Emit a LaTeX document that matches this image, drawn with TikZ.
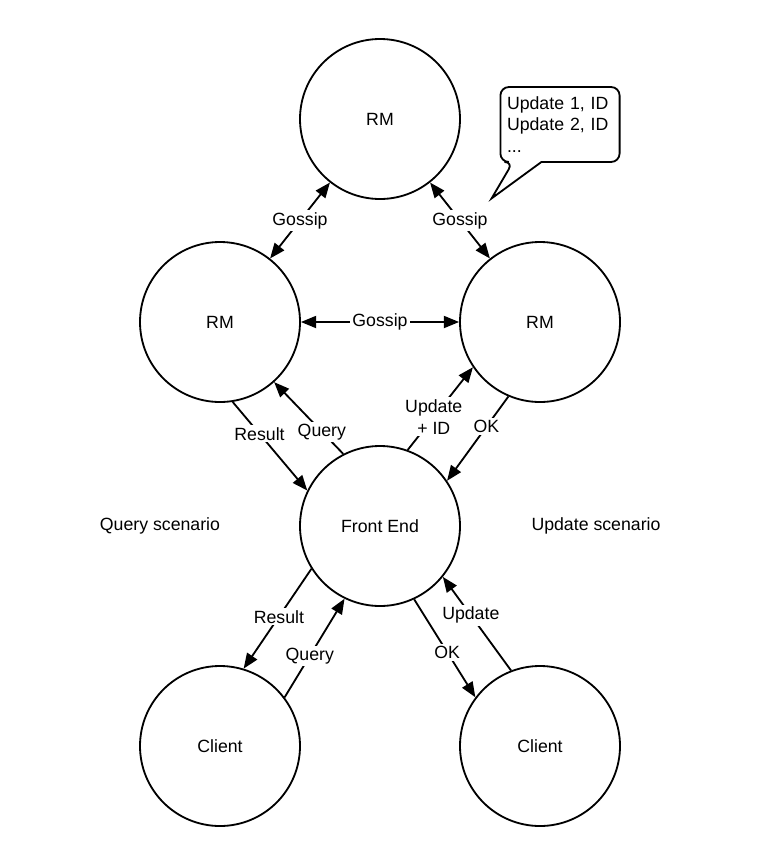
\documentclass[tikz,border=0pt]{standalone}
\usepackage{fontspec}
\setmainfont{Liberation Sans}
\usetikzlibrary{arrows.meta}
\begin{document}
\begin{tikzpicture}[
    every node/.style={font=\fontsize{12.6}{15.5}\selectfont},
    server/.style={draw, circle, line width=1.3pt, minimum size=4cm, inner sep=0pt},
    link/.style={line width=1.3pt, -{Triangle[length=0.38cm,width=0.3cm]}},
    both/.style={line width=1.3pt, {Triangle[length=0.38cm,width=0.3cm]}-{Triangle[length=0.38cm,width=0.3cm]}},
    lbl/.style={fill=white, inner sep=1.5pt},
    notes/.style={minimum width=2.965cm, minimum height=1.86cm, text width=2.65cm, align=left, inner sep=0pt}]
  \useasboundingbox (0,0) rectangle (19,-21.7);

  % replica managers, front end and clients
  \node[server] (top) at (9.5,-2.975) {RM};
  \node[server] (lrm) at (5.5,-8.05) {RM};
  \node[server] (rrm) at (13.5,-8.05) {RM};
  \node[server] (fe) at (9.5,-13.15) {Front End};
  \node[server] (lcl) at (5.5,-18.65) {Client};
  \node[server] (rcl) at (13.5,-18.65) {Client};

  \node (qs) at (4.0,-13.15) {Query scenario};
  \node (us) at (14.9,-13.15) {Update scenario};

  % gossip between the RMs
  \draw[both] (top) -- node[lbl]{Gossip} (lrm);
  \draw[both] (top) -- node[lbl]{Gossip} (rrm);
  \draw[both] (lrm) -- node[lbl]{Gossip} (rrm);

  % front end <-> RMs
  \draw[link] (lrm.-81) -- node[lbl, pos=0.36]{Result} (fe.154);
  \draw[link] (fe.117) -- node[lbl, pos=0.31]{Query} (lrm.-48);
  \draw[link] (fe.70) -- node[lbl, pos=0.4, align=center]{Update\\+ ID} (rrm.214);
  \draw[link] (rrm.-113) -- node[lbl, pos=0.36]{OK} (fe.34);

  % clients <-> front end
  \draw[link] (fe.-148) -- node[lbl, pos=0.48]{Result} (lcl.73);
  \draw[link] (lcl.37) -- node[lbl, pos=0.42]{Query} (fe.-116);
  \draw[link] (fe.-65) -- node[lbl, pos=0.54]{OK} (rcl.143);
  \draw[link] (rcl.111) -- node[lbl, pos=0.59]{Update} (fe.-39);

  % callout with the update log
  \node[notes] (upd) at (14.0,-3.1125) {Update 1, ID\\Update 2, ID\\...};
  \coordinate (tip) at (12.29,-4.96);
  \draw[line width=1.3pt, rounded corners=6pt] (upd.south) -- (upd.south east) -- (upd.north east)
    -- (upd.north west) -- (upd.south west) -- ([xshift=0.315cm]upd.south west)
    [sharp corners] -- (tip) -- ([xshift=1.025cm]upd.south west) -- cycle;
\end{tikzpicture}
\end{document}
